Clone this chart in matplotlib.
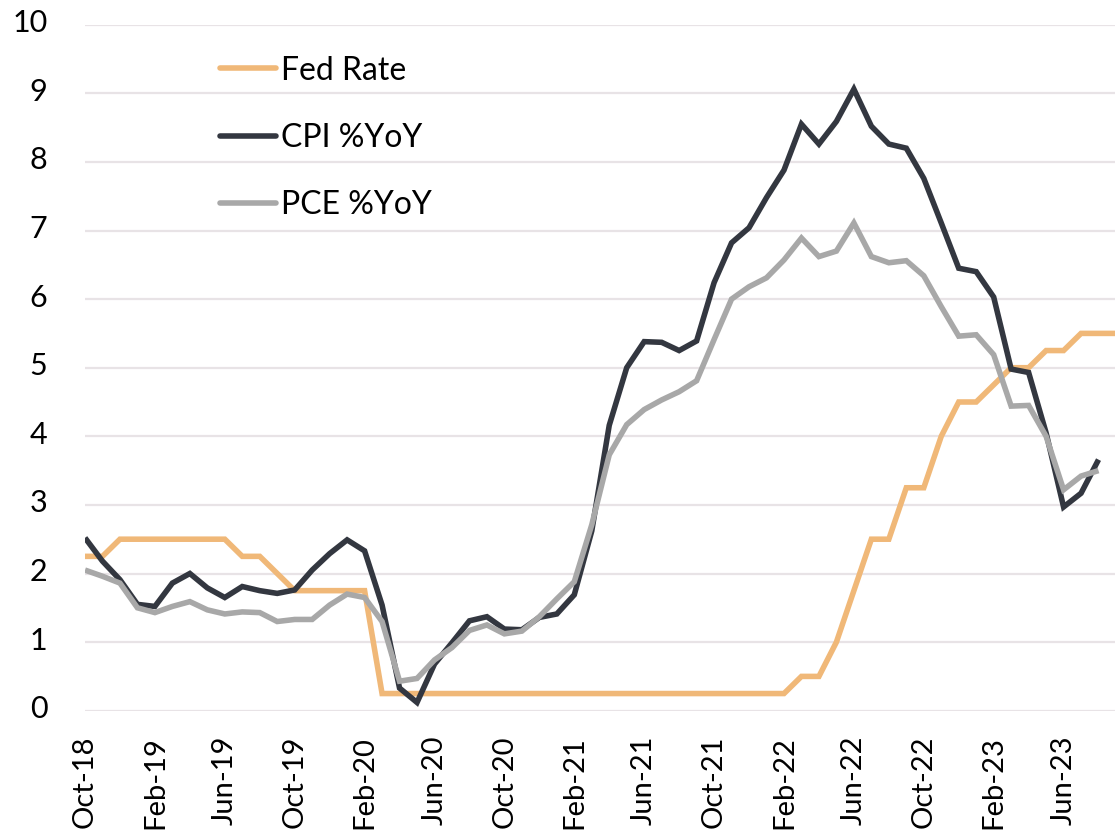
import matplotlib
matplotlib.use("Agg")
import matplotlib.pyplot as plt
import matplotlib.transforms as mtransforms
import numpy as np

plt.rcParams['font.family'] = ['Lato', 'DejaVu Sans']

months = ["Oct-18", "Nov-18", "Dec-18", "Jan-19", "Feb-19", "Mar-19", "Apr-19", "May-19", "Jun-19",
          "Jul-19", "Aug-19", "Sep-19", "Oct-19", "Nov-19", "Dec-19", "Jan-20", "Feb-20", "Mar-20",
          "Apr-20", "May-20", "Jun-20", "Jul-20", "Aug-20", "Sep-20", "Oct-20", "Nov-20", "Dec-20",
          "Jan-21", "Feb-21", "Mar-21", "Apr-21", "May-21", "Jun-21", "Jul-21", "Aug-21", "Sep-21",
          "Oct-21", "Nov-21", "Dec-21", "Jan-22", "Feb-22", "Mar-22", "Apr-22", "May-22", "Jun-22",
          "Jul-22", "Aug-22", "Sep-22", "Oct-22", "Nov-22", "Dec-22", "Jan-23", "Feb-23", "Mar-23",
          "Apr-23", "May-23", "Jun-23", "Jul-23", "Aug-23", "Sep-23"]

fed_rate = [2.25, 2.25, 2.5, 2.5, 2.5, 2.5, 2.5, 2.5, 2.5,
            2.25, 2.25, 2.0, 1.75, 1.75, 1.75, 1.75, 1.75, 0.25,
            0.25, 0.25, 0.25, 0.25, 0.25, 0.25, 0.25, 0.25, 0.25,
            0.25, 0.25, 0.25, 0.25, 0.25, 0.25, 0.25, 0.25, 0.25,
            0.25, 0.25, 0.25, 0.25, 0.25, 0.5, 0.5, 1.0, 1.75,
            2.5, 2.5, 3.25, 3.25, 4.0, 4.5, 4.5, 4.75, 5.0,
            5.0, 5.25, 5.25, 5.5, 5.5, 5.5]

cpi_yoy = [2.52, 2.18, 1.91, 1.55, 1.52, 1.86, 2.00, 1.79, 1.65,
           1.81, 1.75, 1.71, 1.76, 2.05, 2.29, 2.49, 2.33, 1.54,
           0.33, 0.12, 0.68, 0.99, 1.31, 1.37, 1.19, 1.18, 1.36,
           1.41, 1.69, 2.62, 4.16, 5.00, 5.38, 5.37, 5.25, 5.39,
           6.24, 6.82, 7.04, 7.48, 7.88, 8.55, 8.26, 8.59, 9.06,
           8.52, 8.26, 8.20, 7.76, 7.11, 6.45, 6.40, 6.03, 4.98,
           4.93, 4.05, 2.97, 3.17, 3.66]

pce_yoy = [2.05, 1.96, 1.86, 1.50, 1.43, 1.52, 1.59, 1.47, 1.41,
           1.44, 1.43, 1.30, 1.33, 1.33, 1.54, 1.70, 1.65, 1.30,
           0.43, 0.47, 0.74, 0.92, 1.17, 1.25, 1.12, 1.16, 1.37,
           1.63, 1.88, 2.71, 3.73, 4.17, 4.39, 4.53, 4.65, 4.81,
           5.41, 6.00, 6.18, 6.31, 6.57, 6.89, 6.62, 6.70, 7.11,
           6.62, 6.53, 6.56, 6.34, 5.89, 5.46, 5.48, 5.19, 4.44,
           4.45, 4.00, 3.22, 3.42, 3.50]

tick_step = 4
y_ticks = list(range(0, 11))

c_fed = "#F0B878"
c_cpi = "#333740"
c_pce = "#A8A8A8"

fig = plt.figure(figsize=(11.15, 8.35), dpi=100)
ax = fig.add_axes([85 / 1115, 1 - 710.7 / 835, 1031 / 1115, 686 / 835])

x_fed = np.arange(len(fed_rate))
x_cpi = np.arange(len(cpi_yoy))
x_pce = np.arange(len(pce_yoy))

lw = 4.0
ax.plot(x_fed, fed_rate, color=c_fed, lw=lw, label="Fed Rate", solid_joinstyle='miter', solid_capstyle='butt')
ax.plot(x_cpi, cpi_yoy, color=c_cpi, lw=lw, label="CPI %YoY", solid_joinstyle='miter', solid_capstyle='butt')
ax.plot(x_pce, pce_yoy, color=c_pce, lw=lw, label="PCE %YoY", solid_joinstyle='miter', solid_capstyle='butt')

ax.set_xlim(0, len(months) - 1)
ax.set_ylim(0, 10)
ax.set_yticks(y_ticks)
ax.set_yticklabels([str(v) for v in y_ticks], fontsize=22)
tick_pos = list(range(0, len(months), tick_step))[:15]
ax.set_xticks(tick_pos)
ax.set_xticklabels([months[i] for i in tick_pos], rotation=90, fontsize=21)

ax.grid(axis='y', color="#E8E3E6", lw=1.6)
ax.set_axisbelow(True)
ax.tick_params(axis='both', length=0)
ax.tick_params(axis='y', pad=27)
ax.tick_params(axis='x', pad=18)
shift = mtransforms.ScaledTranslation(0, 4 / 100, fig.dpi_scale_trans)
for lab in ax.get_yticklabels():
    lab.set_verticalalignment('center_baseline')
    lab.set_transform(lab.get_transform() + shift)
for s in ax.spines.values():
    s.set_visible(False)

leg = ax.legend(loc='upper left', bbox_to_anchor=(0.131, 0.955), frameon=False,
                fontsize=23, handlelength=1.75, handletextpad=0.15, labelspacing=1.17,
                borderpad=0, borderaxespad=0)
for h in leg.get_lines():
    h.set_linewidth(lw)
    h.set_solid_capstyle('round')

fig.savefig("out.png", dpi=100)
